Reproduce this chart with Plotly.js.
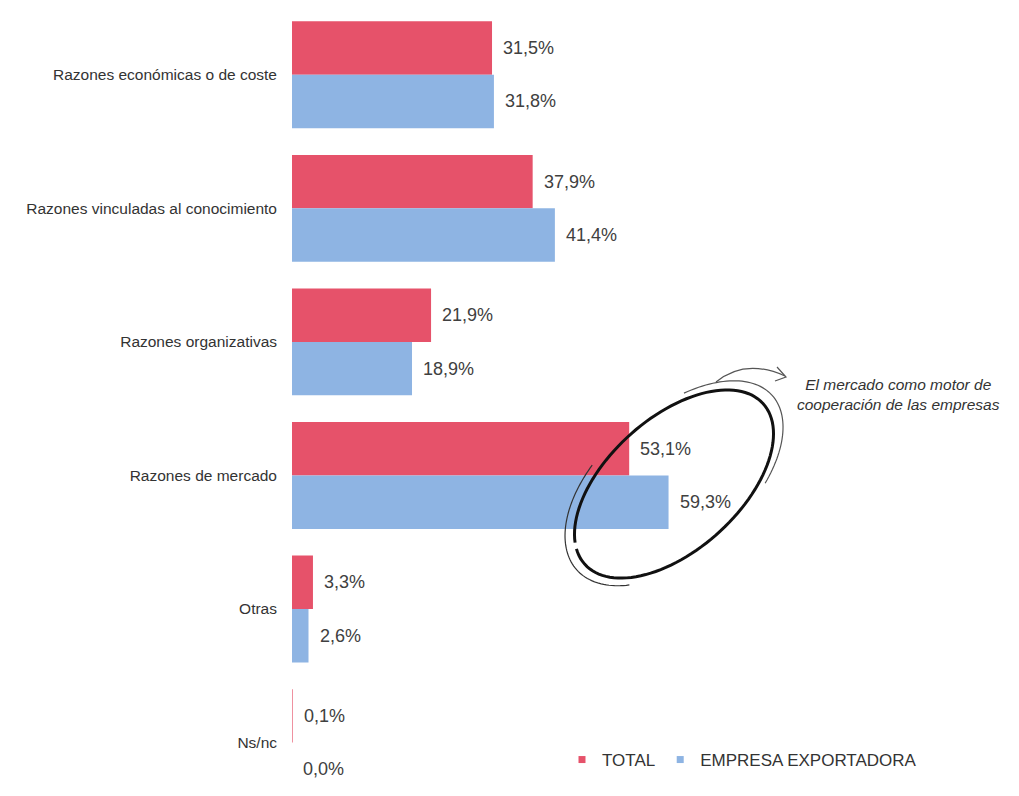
<!DOCTYPE html>
<html>
<head>
<meta charset="utf-8">
<script src="https://cdn.plot.ly/plotly-3.0.1.min.js"></script>
<style>html,body{margin:0;padding:0;background:#fff;}#chart{width:1019px;height:796px;}</style>
</head>
<body>
<div id="chart"></div>
<script>
// ---- data ----
const categories = [
  "Razones económicas o de coste",
  "Razones vinculadas al conocimiento",
  "Razones organizativas",
  "Razones de mercado",
  "Otras",
  "Ns/nc"
];
const totalValues = [31.5, 37.9, 21.9, 53.1, 3.3, 0.1];
const exportValues = [31.8, 41.4, 18.9, 59.3, 2.6, 0.0];
const seriesNames = ["TOTAL", "EMPRESA EXPORTADORA"];
const noteText = "El mercado como motor de<br>cooperación de las empresas";

// ---- layout geometry ----
const W = 1019, H = 796;
const M = {l: 292, r: 27, t: 8, b: 0};
const PW = W - M.l - M.r, PH = H - M.t - M.b;
const px2x = p => (p - M.l) / PW;
const px2y = p => 1 - (p - M.t) / PH;

const RED = "#E6526A", BLUE = "#8EB4E3";
const FONT = "Liberation Sans, Arial, sans-serif";
const fmt = v => v.toFixed(1).replace(".", ",") + "%";

const traces = [
  {type: "bar", orientation: "h", name: seriesNames[0], y: categories, x: totalValues,
   marker: {color: RED}, hoverinfo: "x", showlegend: false, legendgroup: "a"},
  {type: "bar", orientation: "h", name: seriesNames[1], y: categories, x: exportValues,
   marker: {color: BLUE}, hoverinfo: "x", showlegend: false, legendgroup: "b"},
  // legend-only entries with small square swatches
  {type: "scatter", mode: "markers", name: seriesNames[0], x: [null], y: [null],
   marker: {symbol: "square", size: 7, color: RED}, legendgroup: "a"},
  {type: "scatter", mode: "markers", name: seriesNames[1], x: [null], y: [null],
   marker: {symbol: "square", size: 7, color: BLUE}, legendgroup: "b"}
];

const annotations = [];
totalValues.forEach((v, i) => annotations.push({
  x: v, y: i - 0.2, xref: "x", yref: "y", text: fmt(v), showarrow: false,
  xanchor: "left", xshift: 9, font: {family: FONT, size: 18, color: "#404040"}
}));
exportValues.forEach((v, i) => annotations.push({
  x: v, y: i + 0.2, xref: "x", yref: "y", text: fmt(v), showarrow: false,
  xanchor: "left", xshift: 9, font: {family: FONT, size: 18, color: "#404040"}
}));
annotations.push({
  xref: "paper", yref: "paper", x: px2x(898), y: px2y(394), text: noteText, showarrow: false,
  xanchor: "center", yanchor: "middle", align: "center",
  font: {family: FONT, size: 15.5, color: "#333", style: "italic"}
});

// hand-drawn ellipse decoration (pixel geometry -> paper coords)
function ellipsePath(cx, cy, a, b, rotDeg, t0, t1, n) {
  const r = rotDeg * Math.PI / 180;
  let d = "";
  for (let k = 0; k <= n; k++) {
    const t = (t0 + (t1 - t0) * k / n) * Math.PI / 180;
    const ex = a * Math.cos(t), ey = b * Math.sin(t);
    const X = cx + ex * Math.cos(r) - ey * Math.sin(r);
    const Y = cy + ex * Math.sin(r) + ey * Math.cos(r);
    d += (k === 0 ? "M" : "L") + px2x(X).toFixed(5) + "," + px2y(Y).toFixed(5);
  }
  return d;
}
function pathFromPx(pts) {
  return pts.map((p, k) => (k === 0 ? "M" : "L") + px2x(p[0]).toFixed(5) + "," + px2y(p[1]).toFixed(5)).join("");
}
const shapes = [
  {type: "path", xref: "paper", yref: "paper", path: ellipsePath(674, 484, 120, 66, -42, 200, 555, 120),
   line: {color: "#111", width: 3}},
  {type: "path", xref: "paper", yref: "paper", path: ellipsePath(677, 481, 128, 70, -42, 300, 420, 60),
   line: {color: "#555", width: 1.2}},
  {type: "path", xref: "paper", yref: "paper", path: ellipsePath(669, 487, 124, 72, -42, 140, 250, 60),
   line: {color: "#333", width: 1.2}},
  {type: "path", xref: "paper", yref: "paper",
   path: "M" + px2x(716).toFixed(5) + "," + px2y(382).toFixed(5) +
         " Q" + px2x(745).toFixed(5) + "," + px2y(358).toFixed(5) + " " + px2x(785).toFixed(5) + "," + px2y(376).toFixed(5),
   line: {color: "#555", width: 1.2}},
  {type: "path", xref: "paper", yref: "paper",
   path: pathFromPx([[777, 367], [786, 377], [775, 381]]),
   line: {color: "#555", width: 1.2}}
];

const layout = {
  width: W, height: H,
  margin: M,
  paper_bgcolor: "#fff", plot_bgcolor: "#fff",
  barmode: "group", bargap: 0.2, bargroupgap: 0,
  font: {family: FONT, color: "#333"},
  xaxis: {range: [0, PW / 6.35], visible: false, fixedrange: true},
  yaxis: {type: "category", categoryorder: "array", categoryarray: categories,
          range: [5.4, -0.5], autorange: false, showgrid: false, zeroline: false, showline: false,
          ticks: "", ticklabelstandoff: 14,
          tickfont: {family: FONT, size: 15.5, color: "#333"}},
  showlegend: true,
  legend: {orientation: "h", x: px2x(562), y: px2y(760), xanchor: "left", yanchor: "middle",
           font: {family: FONT, size: 17, color: "#333"},
           itemwidth: 30, itemsizing: "trace", traceorder: "normal", bgcolor: "rgba(0,0,0,0)"},
  annotations: annotations,
  shapes: shapes
};

Plotly.newPlot("chart", traces, layout, {displayModeBar: false, staticPlot: true});
</script>
</body>
</html>
